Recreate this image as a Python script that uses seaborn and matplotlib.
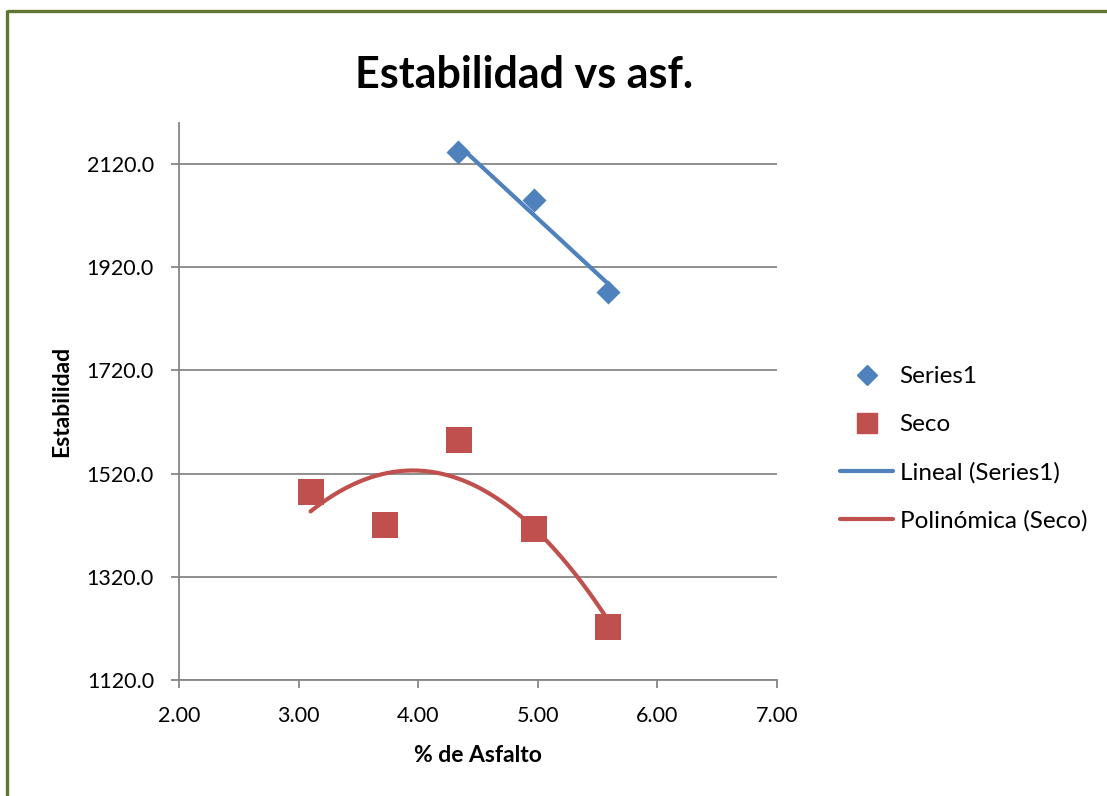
import numpy as np
import pandas as pd
import matplotlib
matplotlib.use("Agg")
import matplotlib.pyplot as plt
import seaborn as sns
from matplotlib.lines import Line2D

# Asphalt content (%) and Marshall stability readings
asfalto_series1 = [4.33, 4.97, 5.59]
estab_series1 = [2143, 2050, 1872]

asfalto_seco = [3.10, 3.72, 4.34, 4.97, 5.59]
estab_seco = [1484, 1420, 1585, 1413, 1223]

x_ticks = [2.0, 3.0, 4.0, 5.0, 6.0, 7.0]
y_ticks = [1120.0, 1320.0, 1520.0, 1720.0, 1920.0, 2120.0]

blue = "#4F81BD"
red = "#C0504D"
grid_col = "#868686"

sns.set_theme(style="white")
plt.rcParams["font.family"] = ["Lato", "DejaVu Sans"]
plt.rcParams["text.color"] = "black"
plt.rcParams["axes.labelcolor"] = "black"

W, H = 1107, 796
fig = plt.figure(figsize=(W / 100, H / 100), dpi=100)
ax = fig.add_axes([179 / W, 1 - 680 / H, (777 - 179) / W, (680 - 123) / H])

# Trend lines: linear for Series1, 2nd-order polynomial for Seco
c1 = np.polyfit(asfalto_series1, estab_series1, 1)
xl = np.linspace(min(asfalto_series1), max(asfalto_series1), 50)
df_lin = pd.DataFrame({"x": xl, "y": np.polyval(c1, xl)})
c2 = np.polyfit(asfalto_seco, estab_seco, 2)
xp = np.linspace(min(asfalto_seco), max(asfalto_seco), 200)
df_pol = pd.DataFrame({"x": xp, "y": np.polyval(c2, xp)})

sns.lineplot(data=df_lin, x="x", y="y", ax=ax, color=blue, lw=3.0, zorder=3)
sns.lineplot(data=df_pol, x="x", y="y", ax=ax, color=red, lw=3.0, zorder=3)

df1 = pd.DataFrame({"x": asfalto_series1, "y": estab_series1})
df2 = pd.DataFrame({"x": asfalto_seco, "y": estab_seco})
sns.scatterplot(data=df1, x="x", y="y", ax=ax, marker="D", s=150, color=blue,
                edgecolor=blue, linewidth=0, zorder=4)
sns.scatterplot(data=df2, x="x", y="y", ax=ax, marker="s", s=330, color=red,
                edgecolor=red, linewidth=0, zorder=4)

ax.set_xlim(2.0, 7.0)
ax.set_ylim(1120, 2199)
ax.set_xticks(x_ticks)
ax.set_xticklabels([f"{v:.2f}" for v in x_ticks], fontsize=15.5)
ax.set_yticks(y_ticks)
ax.set_yticklabels([f"{v:.1f}" for v in y_ticks], fontsize=15.5)
ax.yaxis.grid(True, color=grid_col, lw=1.3)
ax.xaxis.grid(False)
ax.set_axisbelow(True)
for s in ["top", "right"]:
    ax.spines[s].set_visible(False)
for s in ["left", "bottom"]:
    ax.spines[s].set_color(grid_col)
    ax.spines[s].set_linewidth(1.3)
ax.tick_params(axis="both", which="both", direction="out", length=6, width=1.3,
               color=grid_col, left=True, bottom=True, labelcolor="black")
ax.tick_params(axis="x", pad=12.5)
ax.tick_params(axis="y", pad=12)

ax.set_xlabel("% de Asfalto", fontsize=16.5, fontweight="bold")
ax.set_ylabel("Estabilidad", fontsize=16.5, fontweight="bold")
ax.xaxis.label.set_va("center")
ax.yaxis.label.set_va("center")
ax.xaxis.set_label_coords((478 - 179) / 598, (680 - 755) / 557)
ax.yaxis.set_label_coords((62 - 179) / 598, (680 - 401) / 557)

fig.text(524 / W, 1 - 75 / H, "Estabilidad vs asf.", ha="center", va="center",
         fontsize=31, fontweight="bold")

handles = [
    Line2D([], [], marker="D", color=blue, ls="none", markersize=10),
    Line2D([], [], marker="s", color=red, ls="none", markersize=14),
    Line2D([], [], color=blue, lw=3.0),
    Line2D([], [], color=red, lw=3.0),
]
labels = ["Series1", "Seco", "Lineal (Series1)", "Polinómica (Seco)"]
fig.legend(handles, labels, loc="center left", bbox_to_anchor=(840 / W, 1 - 449 / H),
           frameon=False, fontsize=17.5, handlelength=2.2, handletextpad=0.25,
           labelspacing=1.1, borderaxespad=0, borderpad=0)

# Chart frame: top and left edges
border = "#5F7530"
fig.add_artist(Line2D([6.5 / W, 1.0], [1 - 10.5 / H, 1 - 10.5 / H],
                      transform=fig.transFigure, color=border, lw=2.4,
                      solid_capstyle="butt"))
fig.add_artist(Line2D([6.5 / W, 6.5 / W], [0.0, 1 - 9.5 / H],
                      transform=fig.transFigure, color=border, lw=2.4,
                      solid_capstyle="butt"))

fig.savefig("out.png", dpi=100)
